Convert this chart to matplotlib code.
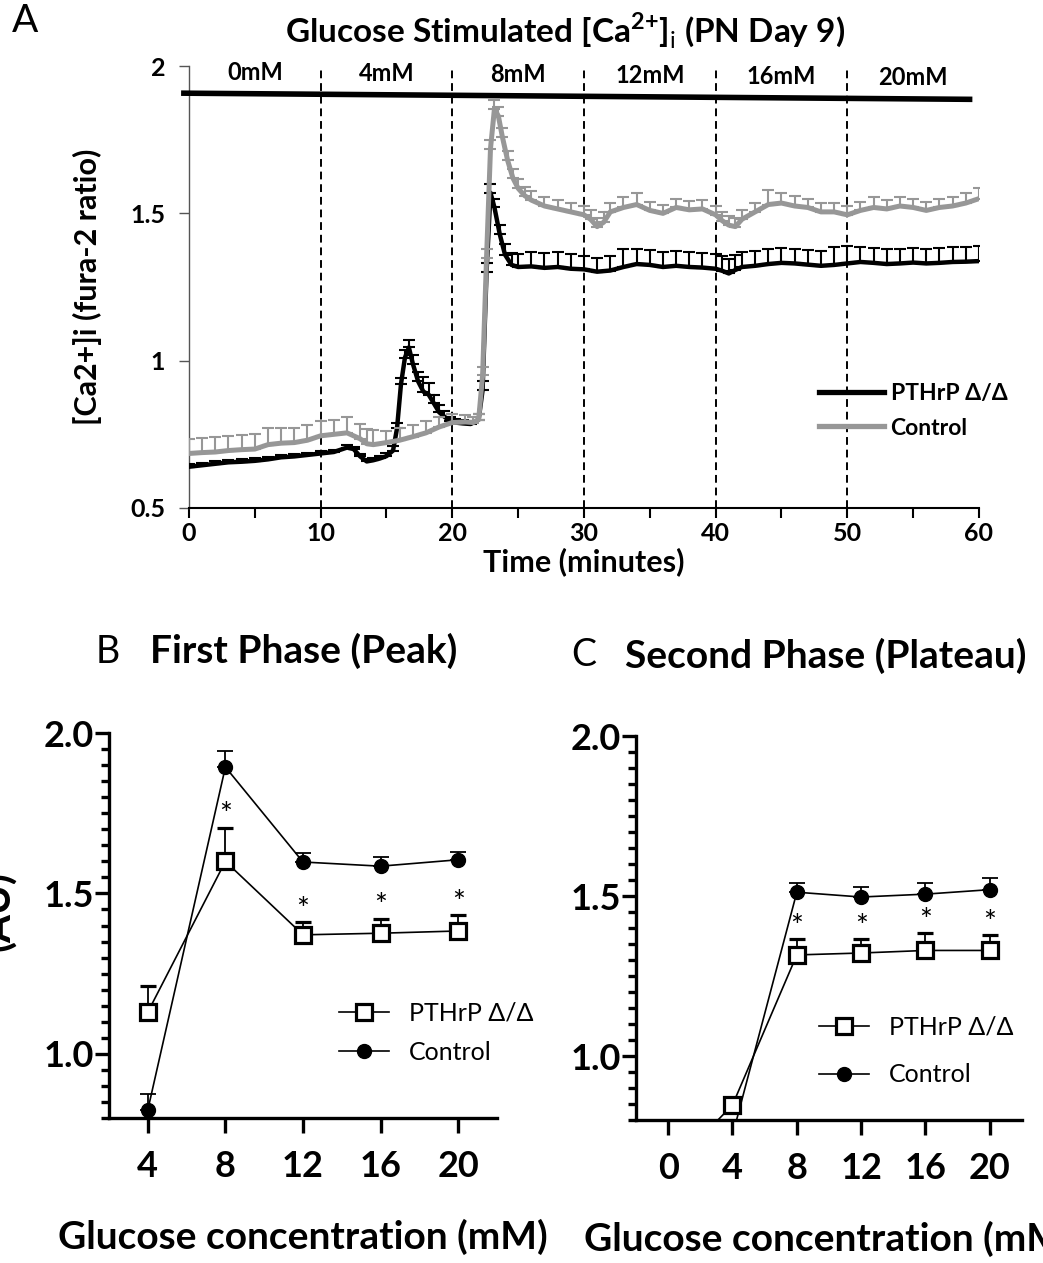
import numpy as np
import matplotlib
matplotlib.use("Agg")
import matplotlib.pyplot as plt
from matplotlib.lines import Line2D
from matplotlib.ticker import MultipleLocator, FuncFormatter

plt.rcParams['font.family'] = ['Lato', 'DejaVu Sans']
plt.rcParams['mathtext.fontset'] = 'custom'
plt.rcParams['mathtext.rm'] = 'Lato'
plt.rcParams['mathtext.bf'] = 'Lato:bold'

# ---- panel A: time course ----
pthrp_t = [0, 1, 2, 3, 4, 5, 6, 7, 8, 9, 10, 11, 12,
           12.5, 13, 13.5, 14, 14.5, 15, 15.5,
           15.8, 16.1, 16.4, 16.7, 17,
           17.4, 17.8, 18.2, 18.6, 19,
           19.4, 19.8, 20.2, 20.8, 21.4, 22,
           22.3, 22.6, 22.9, 23.2, 23.6, 24, 24.5, 25,
           26, 27, 28, 29, 30, 31, 32, 33, 34, 35, 36, 37, 38, 39, 40,
           40.5, 41, 41.5,
           42, 43, 44, 45, 46, 47, 48, 49, 50, 51, 52, 53, 54, 55, 56, 57, 58, 59, 60]
pthrp_v = [0.64, 0.645, 0.65, 0.655, 0.657, 0.66, 0.665, 0.672, 0.675, 0.68, 0.685, 0.69, 0.705,
           0.70, 0.675, 0.658, 0.662, 0.668, 0.676, 0.695,
           0.77, 0.92, 1.01, 1.045, 0.99,
           0.93, 0.895, 0.885, 0.855, 0.825,
           0.81, 0.795, 0.79, 0.787, 0.785, 0.80,
           0.9, 1.3, 1.57, 1.52, 1.43, 1.36, 1.325, 1.318,
           1.32, 1.315, 1.318, 1.312, 1.31, 1.302, 1.306, 1.318, 1.328, 1.325, 1.318, 1.322, 1.318, 1.316, 1.312,
           1.305, 1.296, 1.308,
           1.318, 1.322, 1.328, 1.332, 1.33, 1.326, 1.322, 1.325, 1.33, 1.335, 1.332, 1.328, 1.33, 1.333, 1.33, 1.332, 1.335, 1.336, 1.338]
pthrp_sem = [0.008, 0.008, 0.008, 0.008, 0.008, 0.008, 0.008, 0.008, 0.008, 0.008, 0.008, 0.008, 0.008,
             0.008, 0.008, 0.008, 0.008, 0.008, 0.01, 0.015,
             0.02, 0.02, 0.025, 0.025, 0.03,
             0.03, 0.05, 0.04, 0.03, 0.025,
             0.02, 0.015, 0.012, 0.01, 0.01, 0.02,
             0.03, 0.03, 0.03, 0.03, 0.03, 0.035, 0.04, 0.045,
             0.05, 0.05, 0.05, 0.05, 0.045, 0.045, 0.05, 0.06, 0.05, 0.05, 0.05, 0.05, 0.05, 0.05, 0.05,
             0.05, 0.05, 0.05,
             0.05, 0.05, 0.05, 0.05, 0.05, 0.05, 0.05, 0.06, 0.06, 0.05, 0.05, 0.05, 0.05, 0.05, 0.05, 0.05, 0.05, 0.05, 0.05]

ctrl_t = [0, 1, 2, 3, 4, 5, 6, 7, 8, 9, 10, 11, 12, 13,
          13.5,
          14, 15, 16, 17, 18, 19, 20, 21,
          21.6, 22,
          22.3, 22.6, 22.9, 23.2, 23.5, 23.8,
          24.2, 24.6, 25, 25.5,
          26, 27, 28, 29, 30,
          30.5, 31, 31.5,
          32, 33, 34, 35, 36, 37, 38, 39, 40,
          40.5, 41, 41.5,
          42, 43, 44, 45, 46, 47, 48, 49, 50, 51, 52, 53, 54, 55, 56, 57, 58, 59, 60]
ctrl_v = [0.685, 0.688, 0.69, 0.695, 0.698, 0.70, 0.715, 0.72, 0.722, 0.73, 0.745, 0.75, 0.755, 0.735,
          0.718,
          0.715, 0.722, 0.73, 0.742, 0.755, 0.775, 0.79, 0.792,
          0.79, 0.80,
          0.95, 1.35, 1.72, 1.855, 1.83, 1.76,
          1.68, 1.62, 1.585, 1.56,
          1.545, 1.525, 1.515, 1.505, 1.495,
          1.48, 1.455, 1.47,
          1.505, 1.52, 1.53, 1.51, 1.50, 1.52, 1.512, 1.515, 1.495,
          1.475, 1.46, 1.455,
          1.48, 1.505, 1.53, 1.535, 1.525, 1.52, 1.505, 1.505, 1.495, 1.51, 1.52, 1.515, 1.525, 1.52, 1.51, 1.52, 1.525, 1.535, 1.55]
ctrl_sem = [0.05, 0.05, 0.05, 0.05, 0.05, 0.05, 0.055, 0.05, 0.05, 0.05, 0.05, 0.05, 0.055, 0.05,
            0.05,
            0.05, 0.04, 0.04, 0.04, 0.04, 0.035, 0.03, 0.025,
            0.02, 0.02,
            0.03, 0.03, 0.03, 0.03, 0.03, 0.03,
            0.03, 0.03, 0.03, 0.03,
            0.03, 0.03, 0.03, 0.03, 0.03,
            0.03, 0.03, 0.035,
            0.03, 0.035, 0.04, 0.03, 0.03, 0.03, 0.03, 0.03, 0.03,
            0.03, 0.03, 0.03,
            0.03, 0.03, 0.05, 0.035, 0.035, 0.03, 0.03, 0.03, 0.03, 0.03, 0.035, 0.03, 0.03, 0.03, 0.03, 0.03, 0.03, 0.035, 0.035]

# stimulus bar and glucose step labels
bar_t = [-0.6, 59.5]
bar_y = [1.908, 1.887]
step_edges = [10, 20, 30, 40, 50]
step_mid = [5, 15, 25, 35, 45, 55]
step_labels = ['0mM', '4mM', '8mM', '12mM', '16mM', '20mM']

# ---- panel B: first phase peak ----
conc_b = [4, 8, 12, 16, 20]
peak_pthrp = [1.13, 1.60, 1.371, 1.376, 1.383]
peak_pthrp_sem = [0.08, 0.105, 0.04, 0.045, 0.05]
peak_ctrl = [0.825, 1.894, 1.598, 1.585, 1.605]
peak_ctrl_sem = [0.05, 0.05, 0.028, 0.03, 0.025]
peak_star_x = [8, 12, 16, 20]

# ---- panel C: second phase plateau ----
conc_c = [0, 4, 8, 12, 16, 20]
plat_pthrp = [0.64, 0.847, 1.316, 1.322, 1.33, 1.33]
plat_pthrp_sem = [0.01, 0.01, 0.05, 0.043, 0.054, 0.048]
plat_ctrl = [0.60, 0.752, 1.512, 1.497, 1.506, 1.52]
plat_ctrl_sem = [0.01, 0.01, 0.03, 0.031, 0.034, 0.036]
plat_star_x = [8, 12, 16, 20]

GRAY = '#979797'

fig = plt.figure(figsize=(10.43, 12.63), dpi=100)

# ================= A =================
ax = fig.add_axes([0.1812, 0.5978, 0.7574, 0.3499])
for x in step_edges:
    ax.axvline(x, color='black', lw=1.4, ls=(0, (4, 2.5)), zorder=1)
n = len(pthrp_t)
ax.errorbar(pthrp_t, pthrp_v, yerr=[np.zeros(n), pthrp_sem], color='black', lw=3.2,
            elinewidth=1.5, capsize=4.5, capthick=1.5, zorder=3)
n = len(ctrl_t)
ax.errorbar(ctrl_t, ctrl_v, yerr=[np.zeros(n), ctrl_sem], color=GRAY, lw=3.6,
            elinewidth=1.5, capsize=4.5, capthick=1.5, zorder=4)
ax.plot(bar_t, bar_y, color='black', lw=4, solid_capstyle='butt', clip_on=False, zorder=5)
for xm, lab in zip(step_mid, step_labels):
    yb = np.interp(xm, bar_t, bar_y)
    ax.text(xm, yb + 0.033, lab, ha='center', va='bottom', fontsize=17,
            fontweight='bold', clip_on=False)

ax.set_xlim(0, 60)
ax.set_ylim(0.5, 2)
ax.set_xticks([0, 10, 20, 30, 40, 50, 60])
ax.xaxis.set_minor_locator(MultipleLocator(5))
ax.set_yticks([0.5, 1, 1.5, 2])
ax.yaxis.set_major_formatter(FuncFormatter(lambda v, p: '%g' % v))
for s in ['top', 'right']:
    ax.spines[s].set_visible(False)
ax.spines['left'].set_color('#555555')
ax.spines['left'].set_linewidth(1.0)
ax.spines['bottom'].set_linewidth(1.5)
ax.tick_params(axis='x', which='both', length=7, width=1.5, labelsize=18, pad=3)
ax.tick_params(axis='y', length=7, width=1.0, color='#555555', labelsize=18, pad=10)
for lab in ax.get_xticklabels() + ax.get_yticklabels():
    lab.set_fontweight('bold')
ax.set_xlabel('Time (minutes)', fontsize=22, fontweight='bold', labelpad=2)
ax.set_ylabel('[Ca2+]i (fura-2 ratio)', fontsize=22, fontweight='bold', labelpad=20)
handles = [Line2D([], [], color='black', lw=3.8), Line2D([], [], color=GRAY, lw=3.8)]
ax.legend(handles, ['PTHrP Δ/Δ', 'Control'], loc='upper left', bbox_to_anchor=(0.772, 0.33),
          frameon=False, handlelength=2.8, handletextpad=0.3, labelspacing=0.6,
          prop={'weight': 'bold', 'size': 16.5})
fig.text(0.011, 0.983, 'A', fontsize=28, ha='left', va='center')
fig.text(0.542, 0.976, r'Glucose Stimulated [Ca$^{\mathbf{2{+}}}$]$_{\mathrm{i}}$ (PN Day 9)',
         fontsize=24, fontweight='bold', ha='center', va='center')


def dose_panel(ax, conc, pth, pth_sem, ctl, ctl_sem, star_x, xticks, leg_anchor, leg_space):
    ax.errorbar(conc, ctl, yerr=[np.zeros(len(ctl)), ctl_sem], color='black', lw=1.2,
                marker='o', ms=10, mfc='black', mec='black', elinewidth=1.3,
                capsize=6, capthick=1.3, zorder=3)
    ax.errorbar(conc, pth, yerr=[np.zeros(len(pth)), pth_sem], color='black', lw=1.2,
                marker='s', ms=12, mfc='white', mec='black', mew=2.3, elinewidth=1.3,
                capsize=6, capthick=1.3, zorder=4)
    for xs in star_x:
        i = conc.index(xs)
        ax.text(xs, pth[i] + pth_sem[i] - 0.005, '*', ha='center', va='bottom', fontsize=22)
    ax.set_ylim(0.8, 2.0)
    ax.set_xticks(xticks)
    ax.set_yticks([1.0, 1.5, 2.0])
    ax.yaxis.set_minor_locator(MultipleLocator(0.05))
    ax.yaxis.set_major_formatter(FuncFormatter(lambda v, p: '%.1f' % v))
    for s in ['top', 'right']:
        ax.spines[s].set_visible(False)
    for s in ['left', 'bottom']:
        ax.spines[s].set_linewidth(2.4)
    ax.tick_params(axis='y', which='major', length=10, width=2.4, labelsize=26, pad=1)
    ax.tick_params(axis='y', which='minor', length=5.5, width=2.4)
    ax.tick_params(axis='x', which='major', length=11, width=2.4, labelsize=26, pad=12)
    for lab in ax.get_xticklabels() + ax.get_yticklabels():
        lab.set_fontweight('bold')
    hs = [Line2D([], [], color='black', lw=1.2, marker='s', ms=12, mfc='white', mec='black', mew=2.3),
          Line2D([], [], color='black', lw=1.2, marker='o', ms=10, mfc='black', mec='black')]
    ax.legend(hs, ['PTHrP Δ/Δ', 'Control'], loc='upper left', bbox_to_anchor=leg_anchor,
              frameon=False, handlelength=2.0, handletextpad=0.8, labelspacing=leg_space,
              prop={'size': 18})
    ax.set_xlabel('Glucose concentration (mM)', fontsize=28, fontweight='bold', labelpad=26)


# ================= B =================
axb = fig.add_axes([0.1045, 0.1148, 0.372, 0.3048])
axb.set_xlim(2, 22)
dose_panel(axb, conc_b, peak_pthrp, peak_pthrp_sem, peak_ctrl, peak_ctrl_sem, peak_star_x,
           [4, 8, 12, 16, 20], (0.535, 0.36), 0.65)
fig.text(0.092, 0.484, 'B', fontsize=27, ha='left', va='center')
fig.text(0.144, 0.485, 'First Phase (Peak)', fontsize=28, fontweight='bold', ha='left', va='center')
fig.text(-0.002, 0.279, '(AU)', fontsize=29, fontweight='bold', rotation=90, ha='center', va='center')

# ================= C =================
axc = fig.add_axes([0.6098, 0.1132, 0.370, 0.304])
axc.set_xlim(-2, 22)
dose_panel(axc, conc_c, plat_pthrp, plat_pthrp_sem, plat_ctrl, plat_ctrl_sem, plat_star_x,
           [0, 4, 8, 12, 16, 20], (0.415, 0.33), 0.98)
fig.text(0.548, 0.481, 'C', fontsize=27, ha='left', va='center')
fig.text(0.599, 0.481, 'Second Phase (Plateau)', fontsize=28, fontweight='bold', ha='left', va='center')

fig.savefig('out.png', dpi=100)
